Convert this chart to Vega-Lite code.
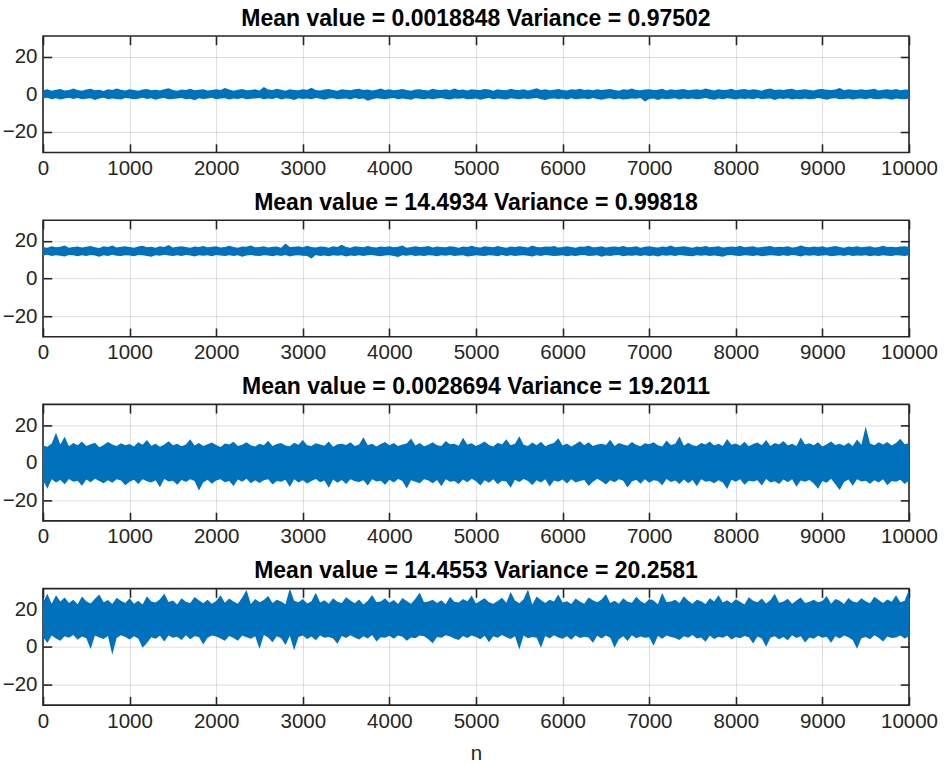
{
"$schema": "https://vega.github.io/schema/vega-lite/v6.json",
"padding": {"top": 6, "left": 1, "right": 5, "bottom": 2},
"background": "white",
"datasets": {
"p1": [
{"n":0,"l":-2.3,"h":2.1},{"n":50,"l":-1.9,"h":2.6},{"n":100,"l":-2.6,"h":1.9},{"n":150,"l":-2.1,"h":2.4},{"n":200,"l":-2.8,"h":2.8},{"n":250,"l":-2.2,"h":2.0},{"n":300,"l":-1.8,"h":2.3},{"n":350,"l":-2.5,"h":3.1},{"n":400,"l":-2.0,"h":2.2},{"n":450,"l":-2.7,"h":1.8},
{"n":500,"l":-2.4,"h":2.5},{"n":550,"l":-2.1,"h":2.9},{"n":600,"l":-3.0,"h":2.1},{"n":650,"l":-2.3,"h":2.4},{"n":700,"l":-1.9,"h":1.7},{"n":750,"l":-2.6,"h":2.6},{"n":800,"l":-2.2,"h":2.2},{"n":850,"l":-2.5,"h":3.0},{"n":900,"l":-2.8,"h":2.4},{"n":950,"l":-2.0,"h":2.0},
{"n":1000,"l":-2.2,"h":2.7},{"n":1050,"l":-2.7,"h":2.3},{"n":1100,"l":-2.4,"h":1.9},{"n":1150,"l":-1.8,"h":2.5},{"n":1200,"l":-2.5,"h":2.8},{"n":1250,"l":-2.1,"h":2.1},{"n":1300,"l":-2.9,"h":2.4},{"n":1350,"l":-2.3,"h":2.0},{"n":1400,"l":-2.0,"h":2.6},{"n":1450,"l":-2.6,"h":3.2},
{"n":1500,"l":-2.5,"h":2.2},{"n":1550,"l":-2.2,"h":1.8},{"n":1600,"l":-2.0,"h":2.5},{"n":1650,"l":-2.7,"h":2.3},{"n":1700,"l":-2.4,"h":2.9},{"n":1750,"l":-3.2,"h":2.1},{"n":1800,"l":-2.1,"h":2.4},{"n":1850,"l":-2.5,"h":2.7},{"n":1900,"l":-2.3,"h":2.0},{"n":1950,"l":-1.9,"h":2.3},
{"n":2000,"l":-2.6,"h":2.6},{"n":2050,"l":-2.3,"h":2.2},{"n":2100,"l":-2.1,"h":3.3},{"n":2150,"l":-2.8,"h":2.5},{"n":2200,"l":-2.2,"h":1.9},{"n":2250,"l":-2.5,"h":2.4},{"n":2300,"l":-2.0,"h":2.8},{"n":2350,"l":-2.7,"h":2.1},{"n":2400,"l":-2.4,"h":2.3},{"n":2450,"l":-2.2,"h":2.6},
{"n":2500,"l":-2.0,"h":2.0},{"n":2550,"l":-2.6,"h":3.8},{"n":2600,"l":-2.3,"h":2.5},{"n":2650,"l":-2.5,"h":2.2},{"n":2700,"l":-1.9,"h":2.9},{"n":2750,"l":-2.8,"h":2.4},{"n":2800,"l":-2.2,"h":1.8},{"n":2850,"l":-2.4,"h":2.6},{"n":2900,"l":-3.1,"h":2.3},{"n":2950,"l":-2.1,"h":2.1},
{"n":3000,"l":-2.5,"h":2.7},{"n":3050,"l":-2.2,"h":2.4},{"n":3100,"l":-2.7,"h":3.4},{"n":3150,"l":-2.0,"h":2.2},{"n":3200,"l":-2.4,"h":2.0},{"n":3250,"l":-2.9,"h":2.5},{"n":3300,"l":-2.3,"h":2.8},{"n":3350,"l":-2.1,"h":2.3},{"n":3400,"l":-2.6,"h":1.9},{"n":3450,"l":-2.4,"h":2.6},
{"n":3500,"l":-2.2,"h":2.4},{"n":3550,"l":-2.8,"h":2.1},{"n":3600,"l":-2.0,"h":2.7},{"n":3650,"l":-2.5,"h":2.9},{"n":3700,"l":-2.3,"h":2.2},{"n":3750,"l":-3.4,"h":2.5},{"n":3800,"l":-2.6,"h":2.0},{"n":3850,"l":-2.1,"h":2.4},{"n":3900,"l":-2.4,"h":3.0},{"n":3950,"l":-2.7,"h":2.3},
{"n":4000,"l":-2.3,"h":2.6},{"n":4050,"l":-2.0,"h":2.1},{"n":4100,"l":-2.6,"h":2.4},{"n":4150,"l":-2.2,"h":2.8},{"n":4200,"l":-2.5,"h":2.2},{"n":4250,"l":-2.9,"h":1.9},{"n":4300,"l":-2.1,"h":2.5},{"n":4350,"l":-2.4,"h":2.7},{"n":4400,"l":-2.7,"h":2.3},{"n":4450,"l":-2.3,"h":2.0},
{"n":4500,"l":-2.6,"h":2.9},{"n":4550,"l":-2.2,"h":2.4},{"n":4600,"l":-2.0,"h":2.2},{"n":4650,"l":-2.5,"h":2.6},{"n":4700,"l":-2.8,"h":2.1},{"n":4750,"l":-2.3,"h":3.1},{"n":4800,"l":-2.4,"h":2.3},{"n":4850,"l":-2.1,"h":2.5},{"n":4900,"l":-2.7,"h":2.0},{"n":4950,"l":-2.5,"h":2.7},
{"n":5000,"l":-2.2,"h":2.4},{"n":5050,"l":-2.9,"h":2.2},{"n":5100,"l":-2.4,"h":2.8},{"n":5150,"l":-2.0,"h":2.5},{"n":5200,"l":-2.6,"h":1.9},{"n":5250,"l":-2.3,"h":2.6},{"n":5300,"l":-2.5,"h":2.3},{"n":5350,"l":-2.8,"h":2.1},{"n":5400,"l":-2.1,"h":2.9},{"n":5450,"l":-2.4,"h":2.4},
{"n":5500,"l":-2.7,"h":2.2},{"n":5550,"l":-2.2,"h":2.7},{"n":5600,"l":-2.5,"h":2.0},{"n":5650,"l":-2.3,"h":2.5},{"n":5700,"l":-2.0,"h":3.2},{"n":5750,"l":-2.6,"h":2.3},{"n":5800,"l":-3.0,"h":2.6},{"n":5850,"l":-2.4,"h":2.1},{"n":5900,"l":-2.2,"h":2.4},{"n":5950,"l":-2.5,"h":2.8},
{"n":6000,"l":-2.3,"h":2.3},{"n":6050,"l":-2.8,"h":2.0},{"n":6100,"l":-2.1,"h":2.6},{"n":6150,"l":-2.6,"h":2.4},{"n":6200,"l":-2.4,"h":2.9},{"n":6250,"l":-2.2,"h":2.2},{"n":6300,"l":-2.7,"h":2.5},{"n":6350,"l":-2.0,"h":2.1},{"n":6400,"l":-2.5,"h":2.7},{"n":6450,"l":-2.9,"h":2.3},
{"n":6500,"l":-2.4,"h":2.5},{"n":6550,"l":-2.1,"h":2.8},{"n":6600,"l":-2.6,"h":2.2},{"n":6650,"l":-2.3,"h":1.9},{"n":6700,"l":-2.8,"h":2.6},{"n":6750,"l":-2.5,"h":2.4},{"n":6800,"l":-2.2,"h":3.0},{"n":6850,"l":-2.4,"h":2.3},{"n":6900,"l":-2.0,"h":2.1},{"n":6950,"l":-3.9,"h":2.5},
{"n":7000,"l":-2.5,"h":2.7},{"n":7050,"l":-2.3,"h":2.2},{"n":7100,"l":-3.1,"h":2.4},{"n":7150,"l":-2.2,"h":2.9},{"n":7200,"l":-2.6,"h":2.0},{"n":7250,"l":-2.4,"h":2.6},{"n":7300,"l":-2.1,"h":2.3},{"n":7350,"l":-2.8,"h":2.5},{"n":7400,"l":-2.3,"h":2.8},{"n":7450,"l":-2.5,"h":2.1},
{"n":7500,"l":-2.2,"h":2.4},{"n":7550,"l":-2.7,"h":2.6},{"n":7600,"l":-2.4,"h":2.2},{"n":7650,"l":-2.0,"h":3.1},{"n":7700,"l":-2.5,"h":2.5},{"n":7750,"l":-2.9,"h":2.0},{"n":7800,"l":-2.3,"h":2.7},{"n":7850,"l":-2.6,"h":2.3},{"n":7900,"l":-2.1,"h":2.4},{"n":7950,"l":-2.4,"h":2.9},
{"n":8000,"l":-2.8,"h":2.1},{"n":8050,"l":-2.2,"h":2.5},{"n":8100,"l":-2.5,"h":2.8},{"n":8150,"l":-2.3,"h":2.2},{"n":8200,"l":-2.7,"h":2.6},{"n":8250,"l":-2.0,"h":2.4},{"n":8300,"l":-2.6,"h":1.9},{"n":8350,"l":-2.4,"h":2.7},{"n":8400,"l":-2.2,"h":3.0},{"n":8450,"l":-3.0,"h":2.3},
{"n":8500,"l":-2.3,"h":2.5},{"n":8550,"l":-2.5,"h":2.2},{"n":8600,"l":-2.1,"h":2.6},{"n":8650,"l":-2.8,"h":2.9},{"n":8700,"l":-2.4,"h":2.1},{"n":8750,"l":-2.6,"h":2.4},{"n":8800,"l":-2.2,"h":2.7},{"n":8850,"l":-2.7,"h":2.3},{"n":8900,"l":-2.5,"h":2.0},{"n":8950,"l":-2.0,"h":2.6},
{"n":9000,"l":-2.4,"h":2.8},{"n":9050,"l":-2.9,"h":2.4},{"n":9100,"l":-2.3,"h":2.2},{"n":9150,"l":-2.1,"h":2.5},{"n":9200,"l":-2.6,"h":3.3},{"n":9250,"l":-2.5,"h":2.1},{"n":9300,"l":-2.2,"h":2.6},{"n":9350,"l":-2.8,"h":2.4},{"n":9400,"l":-2.4,"h":2.3},{"n":9450,"l":-2.3,"h":2.7},
{"n":9500,"l":-2.6,"h":2.2},{"n":9550,"l":-2.1,"h":2.5},{"n":9600,"l":-2.5,"h":2.9},{"n":9650,"l":-2.7,"h":2.0},{"n":9700,"l":-2.3,"h":2.4},{"n":9750,"l":-2.4,"h":2.6},{"n":9800,"l":-2.9,"h":2.3},{"n":9850,"l":-2.2,"h":2.8},{"n":9900,"l":-2.5,"h":2.1},{"n":9950,"l":-2.6,"h":2.5},
{"n":10000,"l":-2.3,"h":2.4}
],
"p2": [
{"n":0,"l":12.2,"h":16.8},{"n":50,"l":12.6,"h":16.4},{"n":100,"l":11.9,"h":17.2},{"n":150,"l":12.4,"h":16.6},{"n":200,"l":12.1,"h":16.9},{"n":250,"l":11.7,"h":17.5},{"n":300,"l":12.5,"h":16.3},{"n":350,"l":12.3,"h":16.7},{"n":400,"l":11.8,"h":17.0},{"n":450,"l":12.4,"h":16.5},
{"n":500,"l":12.0,"h":16.9},{"n":550,"l":12.5,"h":17.3},{"n":600,"l":12.2,"h":16.6},{"n":650,"l":11.6,"h":16.2},{"n":700,"l":12.3,"h":17.1},{"n":750,"l":12.0,"h":16.8},{"n":800,"l":12.6,"h":17.6},{"n":850,"l":12.1,"h":16.5},{"n":900,"l":11.9,"h":16.9},{"n":950,"l":12.4,"h":17.2},
{"n":1000,"l":12.2,"h":16.7},{"n":1050,"l":11.8,"h":16.4},{"n":1100,"l":12.5,"h":17.0},{"n":1150,"l":12.3,"h":17.4},{"n":1200,"l":12.0,"h":16.6},{"n":1250,"l":11.5,"h":16.9},{"n":1300,"l":12.4,"h":16.3},{"n":1350,"l":12.1,"h":17.1},{"n":1400,"l":12.6,"h":16.8},{"n":1450,"l":12.2,"h":17.8},
{"n":1500,"l":11.9,"h":16.5},{"n":1550,"l":12.3,"h":16.9},{"n":1600,"l":12.0,"h":17.2},{"n":1650,"l":12.5,"h":16.7},{"n":1700,"l":12.2,"h":16.4},{"n":1750,"l":11.7,"h":17.0},{"n":1800,"l":12.4,"h":16.8},{"n":1850,"l":12.1,"h":17.3},{"n":1900,"l":12.3,"h":16.6},{"n":1950,"l":11.8,"h":16.9},
{"n":2000,"l":12.5,"h":17.1},{"n":2050,"l":12.2,"h":16.5},{"n":2100,"l":11.9,"h":16.8},{"n":2150,"l":12.4,"h":17.4},{"n":2200,"l":12.0,"h":16.7},{"n":2250,"l":12.3,"h":16.3},{"n":2300,"l":11.6,"h":17.0},{"n":2350,"l":12.2,"h":16.9},{"n":2400,"l":12.5,"h":17.5},{"n":2450,"l":12.1,"h":16.6},
{"n":2500,"l":11.9,"h":16.8},{"n":2550,"l":12.4,"h":17.2},{"n":2600,"l":12.2,"h":16.5},{"n":2650,"l":11.8,"h":16.9},{"n":2700,"l":12.3,"h":17.0},{"n":2750,"l":12.0,"h":16.4},{"n":2800,"l":12.5,"h":18.6},{"n":2850,"l":11.7,"h":16.7},{"n":2900,"l":12.2,"h":16.9},{"n":2950,"l":12.4,"h":17.1},
{"n":3000,"l":12.1,"h":16.6},{"n":3050,"l":11.9,"h":17.4},{"n":3100,"l":10.6,"h":16.8},{"n":3150,"l":12.5,"h":16.5},{"n":3200,"l":12.0,"h":17.0},{"n":3250,"l":12.2,"h":16.9},{"n":3300,"l":11.8,"h":16.3},{"n":3350,"l":12.4,"h":17.2},{"n":3400,"l":12.1,"h":16.7},{"n":3450,"l":12.3,"h":17.9},
{"n":3500,"l":11.7,"h":16.8},{"n":3550,"l":12.2,"h":16.4},{"n":3600,"l":12.0,"h":17.1},{"n":3650,"l":12.4,"h":16.9},{"n":3700,"l":11.9,"h":16.6},{"n":3750,"l":12.3,"h":17.3},{"n":3800,"l":12.5,"h":16.8},{"n":3850,"l":12.1,"h":16.5},{"n":3900,"l":11.8,"h":17.0},{"n":3950,"l":12.2,"h":16.7},
{"n":4000,"l":12.4,"h":17.2},{"n":4050,"l":12.0,"h":16.6},{"n":4100,"l":11.4,"h":16.9},{"n":4150,"l":12.3,"h":17.5},{"n":4200,"l":12.1,"h":16.4},{"n":4250,"l":12.5,"h":16.8},{"n":4300,"l":11.9,"h":17.1},{"n":4350,"l":12.2,"h":16.7},{"n":4400,"l":12.0,"h":16.9},{"n":4450,"l":12.4,"h":17.3},
{"n":4500,"l":12.2,"h":16.5},{"n":4550,"l":11.8,"h":17.0},{"n":4600,"l":12.3,"h":16.8},{"n":4650,"l":12.1,"h":16.6},{"n":4700,"l":12.5,"h":17.2},{"n":4750,"l":11.9,"h":16.9},{"n":4800,"l":12.2,"h":16.4},{"n":4850,"l":12.4,"h":17.0},{"n":4900,"l":11.7,"h":16.7},{"n":4950,"l":12.0,"h":17.4},
{"n":5000,"l":12.3,"h":16.8},{"n":5050,"l":12.1,"h":16.5},{"n":5100,"l":11.9,"h":17.1},{"n":5150,"l":12.4,"h":16.9},{"n":5200,"l":12.2,"h":16.6},{"n":5250,"l":11.8,"h":17.3},{"n":5300,"l":12.5,"h":16.8},{"n":5350,"l":12.0,"h":16.4},{"n":5400,"l":12.3,"h":17.0},{"n":5450,"l":11.9,"h":16.7},
{"n":5500,"l":12.2,"h":17.2},{"n":5550,"l":12.4,"h":16.9},{"n":5600,"l":12.1,"h":16.5},{"n":5650,"l":11.7,"h":17.6},{"n":5700,"l":12.3,"h":16.8},{"n":5750,"l":12.0,"h":16.6},{"n":5800,"l":12.5,"h":17.0},{"n":5850,"l":12.2,"h":16.9},{"n":5900,"l":11.9,"h":17.3},{"n":5950,"l":12.1,"h":16.5},
{"n":6000,"l":12.4,"h":16.7},{"n":6050,"l":11.8,"h":17.1},{"n":6100,"l":12.2,"h":16.8},{"n":6150,"l":12.0,"h":16.4},{"n":6200,"l":12.3,"h":17.0},{"n":6250,"l":12.5,"h":16.9},{"n":6300,"l":11.9,"h":17.4},{"n":6350,"l":12.1,"h":16.6},{"n":6400,"l":12.4,"h":16.8},{"n":6450,"l":11.6,"h":17.2},
{"n":6500,"l":12.2,"h":16.5},{"n":6550,"l":12.0,"h":16.9},{"n":6600,"l":12.3,"h":17.0},{"n":6650,"l":12.5,"h":16.7},{"n":6700,"l":11.8,"h":17.3},{"n":6750,"l":12.2,"h":16.6},{"n":6800,"l":12.1,"h":16.8},{"n":6850,"l":12.4,"h":17.1},{"n":6900,"l":11.9,"h":16.4},{"n":6950,"l":12.3,"h":16.9},
{"n":7000,"l":12.0,"h":17.2},{"n":7050,"l":12.2,"h":16.7},{"n":7100,"l":11.7,"h":16.5},{"n":7150,"l":12.4,"h":17.0},{"n":7200,"l":12.1,"h":16.8},{"n":7250,"l":12.3,"h":17.5},{"n":7300,"l":11.9,"h":16.6},{"n":7350,"l":12.5,"h":16.9},{"n":7400,"l":12.2,"h":17.1},{"n":7450,"l":12.0,"h":16.7},
{"n":7500,"l":11.8,"h":16.4},{"n":7550,"l":12.3,"h":17.0},{"n":7600,"l":12.1,"h":16.8},{"n":7650,"l":12.4,"h":17.3},{"n":7700,"l":11.9,"h":16.6},{"n":7750,"l":12.2,"h":16.9},{"n":7800,"l":12.0,"h":17.2},{"n":7850,"l":11.6,"h":16.5},{"n":7900,"l":12.3,"h":16.8},{"n":7950,"l":12.5,"h":17.0},
{"n":8000,"l":12.1,"h":16.7},{"n":8050,"l":11.9,"h":17.4},{"n":8100,"l":12.4,"h":16.6},{"n":8150,"l":12.2,"h":16.9},{"n":8200,"l":12.0,"h":17.1},{"n":8250,"l":12.3,"h":16.5},{"n":8300,"l":11.8,"h":16.8},{"n":8350,"l":12.1,"h":17.0},{"n":8400,"l":12.4,"h":17.3},{"n":8450,"l":12.2,"h":16.6},
{"n":8500,"l":11.9,"h":16.9},{"n":8550,"l":12.3,"h":16.7},{"n":8600,"l":12.0,"h":17.2},{"n":8650,"l":12.5,"h":16.5},{"n":8700,"l":12.2,"h":16.8},{"n":8750,"l":11.7,"h":17.6},{"n":8800,"l":12.4,"h":16.9},{"n":8850,"l":12.1,"h":16.6},{"n":8900,"l":12.3,"h":17.0},{"n":8950,"l":11.9,"h":16.8},
{"n":9000,"l":12.2,"h":17.1},{"n":9050,"l":12.4,"h":16.5},{"n":9100,"l":11.8,"h":16.9},{"n":9150,"l":12.1,"h":17.3},{"n":9200,"l":12.3,"h":16.7},{"n":9250,"l":12.0,"h":16.4},{"n":9300,"l":12.5,"h":17.0},{"n":9350,"l":11.9,"h":16.8},{"n":9400,"l":12.2,"h":17.2},{"n":9450,"l":12.1,"h":16.6},
{"n":9500,"l":12.4,"h":16.9},{"n":9550,"l":11.8,"h":17.1},{"n":9600,"l":12.2,"h":16.5},{"n":9650,"l":12.0,"h":16.8},{"n":9700,"l":12.3,"h":17.4},{"n":9750,"l":12.1,"h":16.7},{"n":9800,"l":11.9,"h":16.9},{"n":9850,"l":12.4,"h":16.6},{"n":9900,"l":12.2,"h":17.0},{"n":9950,"l":12.0,"h":17.2},
{"n":10000,"l":12.3,"h":16.8}
],
"p3": [
{"n":0,"l":-9.4,"h":9.1},{"n":50,"l":-13.9,"h":8.4},{"n":100,"l":-8.8,"h":10.2},{"n":150,"l":-10.6,"h":15.9},{"n":200,"l":-9.2,"h":9.6},{"n":250,"l":-11.5,"h":13.8},{"n":300,"l":-8.7,"h":8.7},{"n":350,"l":-10.1,"h":10.5},{"n":400,"l":-9.6,"h":9.3},{"n":450,"l":-12.3,"h":11.2},
{"n":500,"l":-9.0,"h":8.9},{"n":550,"l":-10.4,"h":9.8},{"n":600,"l":-8.6,"h":10.6},{"n":650,"l":-9.8,"h":8.2},{"n":700,"l":-11.0,"h":9.4},{"n":750,"l":-9.3,"h":11.0},{"n":800,"l":-10.7,"h":9.7},{"n":850,"l":-8.9,"h":8.8},{"n":900,"l":-9.5,"h":10.3},{"n":950,"l":-12.0,"h":9.2},
{"n":1000,"l":-10.2,"h":9.9},{"n":1050,"l":-9.1,"h":8.6},{"n":1100,"l":-11.3,"h":10.8},{"n":1150,"l":-8.8,"h":9.5},{"n":1200,"l":-9.9,"h":12.1},{"n":1250,"l":-10.5,"h":9.0},{"n":1300,"l":-9.4,"h":10.1},{"n":1350,"l":-13.1,"h":8.5},{"n":1400,"l":-8.7,"h":9.7},{"n":1450,"l":-10.0,"h":11.4},
{"n":1500,"l":-9.6,"h":9.3},{"n":1550,"l":-11.7,"h":10.0},{"n":1600,"l":-9.2,"h":8.7},{"n":1650,"l":-10.3,"h":9.6},{"n":1700,"l":-8.9,"h":12.5},{"n":1750,"l":-9.8,"h":9.1},{"n":1800,"l":-14.8,"h":10.4},{"n":1850,"l":-10.6,"h":8.9},{"n":1900,"l":-9.1,"h":9.8},{"n":1950,"l":-11.2,"h":10.7},
{"n":2000,"l":-9.5,"h":9.4},{"n":2050,"l":-8.8,"h":8.3},{"n":2100,"l":-10.4,"h":10.2},{"n":2150,"l":-9.7,"h":9.7},{"n":2200,"l":-12.4,"h":11.1},{"n":2250,"l":-9.0,"h":8.8},{"n":2300,"l":-10.1,"h":9.5},{"n":2350,"l":-8.6,"h":10.9},{"n":2400,"l":-11.0,"h":9.2},{"n":2450,"l":-9.3,"h":8.6},
{"n":2500,"l":-10.8,"h":10.0},{"n":2550,"l":-9.4,"h":9.3},{"n":2600,"l":-8.9,"h":11.6},{"n":2650,"l":-11.6,"h":8.9},{"n":2700,"l":-9.7,"h":9.9},{"n":2750,"l":-10.2,"h":10.4},{"n":2800,"l":-9.1,"h":9.1},{"n":2850,"l":-12.9,"h":8.7},{"n":2900,"l":-8.8,"h":10.6},{"n":2950,"l":-10.5,"h":9.5},
{"n":3000,"l":-9.3,"h":12.0},{"n":3050,"l":-11.1,"h":9.2},{"n":3100,"l":-9.8,"h":8.8},{"n":3150,"l":-8.7,"h":10.3},{"n":3200,"l":-10.4,"h":9.7},{"n":3250,"l":-9.5,"h":9.0},{"n":3300,"l":-13.3,"h":11.3},{"n":3350,"l":-9.0,"h":8.5},{"n":3400,"l":-10.7,"h":9.8},{"n":3450,"l":-9.2,"h":10.1},
{"n":3500,"l":-11.4,"h":9.4},{"n":3550,"l":-8.9,"h":10.8},{"n":3600,"l":-9.9,"h":8.9},{"n":3650,"l":-10.3,"h":9.6},{"n":3700,"l":-9.4,"h":13.5},{"n":3750,"l":-12.1,"h":9.3},{"n":3800,"l":-8.8,"h":10.0},{"n":3850,"l":-10.0,"h":8.6},{"n":3900,"l":-9.6,"h":9.9},{"n":3950,"l":-11.8,"h":11.0},
{"n":4000,"l":-9.1,"h":9.2},{"n":4050,"l":-10.6,"h":10.5},{"n":4100,"l":-8.7,"h":8.8},{"n":4150,"l":-9.8,"h":9.7},{"n":4200,"l":-13.7,"h":10.2},{"n":4250,"l":-9.3,"h":12.8},{"n":4300,"l":-10.2,"h":9.1},{"n":4350,"l":-11.0,"h":10.4},{"n":4400,"l":-8.9,"h":8.7},{"n":4450,"l":-9.5,"h":9.5},
{"n":4500,"l":-10.9,"h":10.9},{"n":4550,"l":-9.2,"h":9.3},{"n":4600,"l":-12.5,"h":8.9},{"n":4650,"l":-8.8,"h":11.5},{"n":4700,"l":-10.1,"h":9.8},{"n":4750,"l":-9.7,"h":10.1},{"n":4800,"l":-11.3,"h":9.0},{"n":4850,"l":-9.0,"h":13.2},{"n":4900,"l":-10.4,"h":9.6},{"n":4950,"l":-8.6,"h":10.3},
{"n":5000,"l":-9.9,"h":8.8},{"n":5050,"l":-12.2,"h":9.9},{"n":5100,"l":-9.4,"h":11.2},{"n":5150,"l":-10.7,"h":9.4},{"n":5200,"l":-8.9,"h":8.6},{"n":5250,"l":-11.5,"h":10.6},{"n":5300,"l":-9.6,"h":9.7},{"n":5350,"l":-10.0,"h":12.4},{"n":5400,"l":-13.4,"h":9.2},{"n":5450,"l":-9.1,"h":10.0},
{"n":5500,"l":-10.3,"h":14.1},{"n":5550,"l":-8.7,"h":9.5},{"n":5600,"l":-9.8,"h":8.9},{"n":5650,"l":-11.9,"h":10.7},{"n":5700,"l":-9.3,"h":9.3},{"n":5750,"l":-10.5,"h":11.1},{"n":5800,"l":-8.9,"h":8.7},{"n":5850,"l":-12.7,"h":9.8},{"n":5900,"l":-9.5,"h":10.4},{"n":5950,"l":-10.1,"h":13.0},
{"n":6000,"l":-9.0,"h":9.1},{"n":6050,"l":-11.1,"h":10.2},{"n":6100,"l":-8.8,"h":8.6},{"n":6150,"l":-10.6,"h":9.9},{"n":6200,"l":-9.7,"h":11.4},{"n":6250,"l":-9.2,"h":9.3},{"n":6300,"l":-12.4,"h":10.8},{"n":6350,"l":-10.2,"h":8.9},{"n":6400,"l":-8.6,"h":9.6},{"n":6450,"l":-9.9,"h":10.1},
{"n":6500,"l":-11.6,"h":9.4},{"n":6550,"l":-9.4,"h":12.2},{"n":6600,"l":-10.4,"h":8.8},{"n":6650,"l":-8.9,"h":10.5},{"n":6700,"l":-9.6,"h":9.7},{"n":6750,"l":-13.2,"h":9.0},{"n":6800,"l":-10.0,"h":11.0},{"n":6850,"l":-9.1,"h":9.5},{"n":6900,"l":-11.2,"h":8.7},{"n":6950,"l":-8.8,"h":10.3},
{"n":7000,"l":-10.7,"h":9.8},{"n":7050,"l":-9.3,"h":10.9},{"n":7100,"l":-9.8,"h":9.2},{"n":7150,"l":-12.0,"h":8.6},{"n":7200,"l":-8.7,"h":11.8},{"n":7250,"l":-10.3,"h":9.4},{"n":7300,"l":-9.5,"h":10.1},{"n":7350,"l":-11.4,"h":13.9},{"n":7400,"l":-9.0,"h":9.0},{"n":7450,"l":-10.9,"h":10.6},
{"n":7500,"l":-9.2,"h":9.3},{"n":7550,"l":-12.6,"h":8.9},{"n":7600,"l":-8.9,"h":10.4},{"n":7650,"l":-10.1,"h":9.7},{"n":7700,"l":-9.7,"h":11.3},{"n":7750,"l":-11.0,"h":9.1},{"n":7800,"l":-9.4,"h":10.0},{"n":7850,"l":-10.5,"h":8.8},{"n":7900,"l":-14.0,"h":12.6},{"n":7950,"l":-9.1,"h":9.5},
{"n":8000,"l":-10.2,"h":10.2},{"n":8050,"l":-8.8,"h":9.0},{"n":8100,"l":-11.7,"h":11.1},{"n":8150,"l":-9.6,"h":8.7},{"n":8200,"l":-10.0,"h":9.9},{"n":8250,"l":-9.3,"h":10.7},{"n":8300,"l":-12.2,"h":9.3},{"n":8350,"l":-8.7,"h":12.0},{"n":8400,"l":-10.6,"h":8.9},{"n":8450,"l":-9.9,"h":10.4},
{"n":8500,"l":-11.3,"h":9.6},{"n":8550,"l":-9.0,"h":11.5},{"n":8600,"l":-10.4,"h":9.1},{"n":8650,"l":-8.9,"h":10.0},{"n":8700,"l":-12.8,"h":8.8},{"n":8750,"l":-9.5,"h":13.4},{"n":8800,"l":-10.1,"h":9.7},{"n":8850,"l":-9.2,"h":10.3},{"n":8900,"l":-11.1,"h":9.2},{"n":8950,"l":-13.9,"h":10.9},
{"n":9000,"l":-9.8,"h":8.6},{"n":9050,"l":-10.7,"h":9.8},{"n":9100,"l":-8.6,"h":11.2},{"n":9150,"l":-11.5,"h":9.4},{"n":9200,"l":-14.6,"h":10.1},{"n":9250,"l":-10.3,"h":9.0},{"n":9300,"l":-9.0,"h":10.6},{"n":9350,"l":-12.3,"h":8.9},{"n":9400,"l":-8.8,"h":12.3},{"n":9450,"l":-10.0,"h":9.5},
{"n":9500,"l":-9.6,"h":19.3},{"n":9550,"l":-11.2,"h":10.2},{"n":9600,"l":-9.3,"h":9.3},{"n":9650,"l":-10.6,"h":10.8},{"n":9700,"l":-8.9,"h":9.7},{"n":9750,"l":-12.0,"h":11.0},{"n":9800,"l":-9.7,"h":9.1},{"n":9850,"l":-10.2,"h":10.4},{"n":9900,"l":-9.1,"h":12.7},{"n":9950,"l":-11.4,"h":9.8},
{"n":10000,"l":-9.5,"h":10.5}
],
"p4": [
{"n":0,"l":5.2,"h":23.8},{"n":50,"l":2.1,"h":28.2},{"n":100,"l":6.0,"h":22.9},{"n":150,"l":4.4,"h":27.5},{"n":200,"l":3.3,"h":24.1},{"n":250,"l":5.7,"h":26.3},{"n":300,"l":4.9,"h":23.4},{"n":350,"l":6.3,"h":25.0},{"n":400,"l":3.8,"h":22.7},{"n":450,"l":5.5,"h":26.8},
{"n":500,"l":4.6,"h":24.3},{"n":550,"l":-1.2,"h":23.1},{"n":600,"l":6.1,"h":25.6},{"n":650,"l":5.0,"h":27.9},{"n":700,"l":4.2,"h":23.7},{"n":750,"l":5.8,"h":24.9},{"n":800,"l":-4.2,"h":22.8},{"n":850,"l":4.7,"h":26.1},{"n":900,"l":6.2,"h":24.5},{"n":950,"l":5.3,"h":23.3},
{"n":1000,"l":3.9,"h":25.8},{"n":1050,"l":5.6,"h":23.0},{"n":1100,"l":4.5,"h":24.6},{"n":1150,"l":-0.5,"h":22.5},{"n":1200,"l":2.0,"h":26.9},{"n":1250,"l":5.1,"h":24.2},{"n":1300,"l":4.3,"h":23.6},{"n":1350,"l":5.9,"h":25.3},{"n":1400,"l":2.9,"h":28.4},{"n":1450,"l":6.0,"h":23.9},
{"n":1500,"l":4.8,"h":24.7},{"n":1550,"l":5.4,"h":22.6},{"n":1600,"l":3.6,"h":25.9},{"n":1650,"l":6.2,"h":24.0},{"n":1700,"l":4.0,"h":23.4},{"n":1750,"l":5.7,"h":26.5},{"n":1800,"l":5.2,"h":24.8},{"n":1850,"l":1.2,"h":23.2},{"n":1900,"l":4.9,"h":25.1},{"n":1950,"l":6.1,"h":22.9},
{"n":2000,"l":5.5,"h":24.4},{"n":2050,"l":4.4,"h":27.5},{"n":2100,"l":3.2,"h":23.5},{"n":2150,"l":5.8,"h":25.7},{"n":2200,"l":4.7,"h":24.1},{"n":2250,"l":3.2,"h":23.0},{"n":2300,"l":6.0,"h":26.2},{"n":2350,"l":5.1,"h":30.2},{"n":2400,"l":4.3,"h":22.8},{"n":2450,"l":5.6,"h":25.4},
{"n":2500,"l":-1.2,"h":23.7},{"n":2550,"l":6.3,"h":24.9},{"n":2600,"l":5.0,"h":27.1},{"n":2650,"l":2.4,"h":23.3},{"n":2700,"l":5.7,"h":25.0},{"n":2750,"l":4.6,"h":24.2},{"n":2800,"l":1.0,"h":22.7},{"n":2850,"l":5.9,"h":31.0},{"n":2900,"l":-1.8,"h":24.5},{"n":2950,"l":5.3,"h":23.8},
{"n":3000,"l":6.1,"h":25.5},{"n":3050,"l":4.2,"h":23.1},{"n":3100,"l":5.5,"h":24.3},{"n":3150,"l":3.5,"h":28.8},{"n":3200,"l":6.0,"h":23.6},{"n":3250,"l":4.9,"h":24.8},{"n":3300,"l":5.2,"h":22.9},{"n":3350,"l":4.4,"h":25.9},{"n":3400,"l":1.7,"h":24.0},{"n":3450,"l":5.8,"h":23.4},
{"n":3500,"l":4.7,"h":26.4},{"n":3550,"l":6.2,"h":24.7},{"n":3600,"l":5.0,"h":23.2},{"n":3650,"l":3.9,"h":25.2},{"n":3700,"l":5.6,"h":22.6},{"n":3750,"l":4.5,"h":24.5},{"n":3800,"l":6.3,"h":27.6},{"n":3850,"l":2.8,"h":23.9},{"n":3900,"l":5.1,"h":24.1},{"n":3950,"l":4.8,"h":25.8},
{"n":4000,"l":5.9,"h":23.5},{"n":4050,"l":4.3,"h":24.9},{"n":4100,"l":6.1,"h":22.8},{"n":4150,"l":5.4,"h":26.0},{"n":4200,"l":3.3,"h":24.4},{"n":4250,"l":5.0,"h":23.0},{"n":4300,"l":4.6,"h":25.6},{"n":4350,"l":6.0,"h":28.9},{"n":4400,"l":5.7,"h":23.7},{"n":4450,"l":4.1,"h":24.2},
{"n":4500,"l":1.9,"h":25.1},{"n":4550,"l":5.3,"h":23.3},{"n":4600,"l":4.9,"h":24.8},{"n":4650,"l":6.2,"h":22.7},{"n":4700,"l":5.5,"h":26.7},{"n":4750,"l":4.4,"h":24.0},{"n":4800,"l":3.7,"h":23.6},{"n":4850,"l":5.8,"h":25.4},{"n":4900,"l":4.7,"h":24.3},{"n":4950,"l":6.1,"h":27.3},
{"n":5000,"l":5.2,"h":23.1},{"n":5050,"l":4.0,"h":24.6},{"n":5100,"l":5.9,"h":25.9},{"n":5150,"l":2.5,"h":23.8},{"n":5200,"l":5.6,"h":22.9},{"n":5250,"l":4.8,"h":24.4},{"n":5300,"l":6.3,"h":26.1},{"n":5350,"l":5.1,"h":23.5},{"n":5400,"l":4.2,"h":29.2},{"n":5450,"l":5.7,"h":24.7},
{"n":5500,"l":-1.4,"h":23.2},{"n":5550,"l":6.0,"h":25.3},{"n":5600,"l":4.6,"h":30.5},{"n":5650,"l":5.3,"h":22.6},{"n":5700,"l":4.9,"h":26.8},{"n":5750,"l":-0.5,"h":24.9},{"n":5800,"l":5.8,"h":23.4},{"n":5850,"l":4.5,"h":25.0},{"n":5900,"l":6.2,"h":24.2},{"n":5950,"l":5.0,"h":27.8},
{"n":6000,"l":4.3,"h":23.6},{"n":6050,"l":5.6,"h":24.3},{"n":6100,"l":3.8,"h":22.8},{"n":6150,"l":6.1,"h":25.7},{"n":6200,"l":4.7,"h":24.1},{"n":6250,"l":5.4,"h":23.0},{"n":6300,"l":5.0,"h":26.3},{"n":6350,"l":2.2,"h":24.8},{"n":6400,"l":5.9,"h":23.7},{"n":6450,"l":4.4,"h":25.2},
{"n":6500,"l":6.0,"h":28.0},{"n":6550,"l":4.9,"h":23.3},{"n":6600,"l":-0.5,"h":24.5},{"n":6650,"l":4.1,"h":22.9},{"n":6700,"l":5.7,"h":25.8},{"n":6750,"l":3.1,"h":24.0},{"n":6800,"l":6.2,"h":23.5},{"n":6850,"l":4.6,"h":26.6},{"n":6900,"l":5.5,"h":24.4},{"n":6950,"l":4.8,"h":23.1},
{"n":7000,"l":5.1,"h":25.5},{"n":7050,"l":0.6,"h":24.7},{"n":7100,"l":5.8,"h":22.7},{"n":7150,"l":4.3,"h":28.6},{"n":7200,"l":6.1,"h":23.9},{"n":7250,"l":5.2,"h":24.2},{"n":7300,"l":4.7,"h":25.1},{"n":7350,"l":3.6,"h":23.4},{"n":7400,"l":5.6,"h":26.9},{"n":7450,"l":4.9,"h":24.6},
{"n":7500,"l":6.3,"h":23.0},{"n":7550,"l":4.5,"h":25.0},{"n":7600,"l":5.0,"h":24.3},{"n":7650,"l":2.7,"h":22.8},{"n":7700,"l":5.9,"h":25.9},{"n":7750,"l":4.2,"h":24.1},{"n":7800,"l":5.4,"h":27.4},{"n":7850,"l":4.8,"h":23.6},{"n":7900,"l":6.0,"h":24.8},{"n":7950,"l":3.9,"h":23.2},
{"n":8000,"l":5.3,"h":25.3},{"n":8050,"l":4.6,"h":24.0},{"n":8100,"l":5.8,"h":22.6},{"n":8150,"l":5.1,"h":26.4},{"n":8200,"l":1.8,"h":24.5},{"n":8250,"l":5.5,"h":23.8},{"n":8300,"l":4.4,"h":25.7},{"n":8350,"l":0.0,"h":23.1},{"n":8400,"l":4.9,"h":24.9},{"n":8450,"l":5.7,"h":28.3},
{"n":8500,"l":4.0,"h":23.5},{"n":8550,"l":5.2,"h":24.2},{"n":8600,"l":3.5,"h":25.6},{"n":8650,"l":6.2,"h":22.9},{"n":8700,"l":4.7,"h":24.7},{"n":8750,"l":5.6,"h":26.2},{"n":8800,"l":2.3,"h":23.3},{"n":8850,"l":5.0,"h":24.0},{"n":8900,"l":4.3,"h":25.1},{"n":8950,"l":5.9,"h":23.7},
{"n":9000,"l":4.8,"h":24.4},{"n":9050,"l":5.4,"h":27.0},{"n":9100,"l":2.2,"h":23.0},{"n":9150,"l":5.7,"h":25.4},{"n":9200,"l":4.5,"h":24.6},{"n":9250,"l":6.0,"h":22.8},{"n":9300,"l":5.1,"h":26.0},{"n":9350,"l":3.7,"h":24.1},{"n":9400,"l":-1.0,"h":23.6},{"n":9450,"l":4.6,"h":25.8},
{"n":9500,"l":5.3,"h":24.3},{"n":9550,"l":4.1,"h":23.2},{"n":9600,"l":6.2,"h":26.7},{"n":9650,"l":4.9,"h":24.9},{"n":9700,"l":2.9,"h":23.4},{"n":9750,"l":5.5,"h":25.2},{"n":9800,"l":4.7,"h":24.0},{"n":9850,"l":5.0,"h":27.5},{"n":9900,"l":6.1,"h":23.8},{"n":9950,"l":4.4,"h":24.5},
{"n":10000,"l":5.6,"h":30.5}
]
},
"vconcat": [
{
"title": "Mean value = 0.0018848 Variance = 0.97502",
"data": {"name": "p1"},
"width": 866, "height": 116.5,
"layer": [
{"mark": {"type": "area", "color": "#0072BD", "clip": true},
 "encoding": {
  "x": {"field": "n", "type": "quantitative", "scale": {"domain": [0, 10000], "nice": false, "zero": false},
        "axis": {"orient": "bottom", "values": [0,1000,2000,3000,4000,5000,6000,7000,8000,9000,10000], "format": "d", "title": null, "ticks": false}},
  "y": {"field": "l", "type": "quantitative", "scale": {"domain": [-31, 31], "nice": false},
        "axis": {"orient": "left", "values": [-20, 0, 20], "title": null, "ticks": false}},
  "y2": {"field": "h"}}},
{"mark": {"type": "area", "opacity": 0},
 "encoding": {
  "x": {"field": "n", "type": "quantitative", "axis": {"orient": "top", "values": [0,1000,2000,3000,4000,5000,6000,7000,8000,9000,10000], "labels": false, "grid": false, "title": null, "offset": -8.7}},
  "y": {"field": "l", "type": "quantitative", "axis": {"orient": "right", "values": [-20, 0, 20], "labels": false, "grid": false, "title": null, "offset": -8.7}},
  "y2": {"field": "h"}}},
{"mark": {"type": "area", "opacity": 0},
 "encoding": {
  "x": {"field": "n", "type": "quantitative", "axis": {"orient": "bottom", "values": [0,1000,2000,3000,4000,5000,6000,7000,8000,9000,10000], "labels": false, "grid": false, "title": null, "offset": -8.7}},
  "y": {"field": "l", "type": "quantitative", "axis": {"orient": "left", "values": [-20, 0, 20], "labels": false, "grid": false, "title": null, "offset": -8.7}},
  "y2": {"field": "h"}}}
],
"resolve": {"axis": {"x": "independent", "y": "independent"}}
},
{
"title": "Mean value = 14.4934 Variance = 0.99818",
"data": {"name": "p2"},
"width": 866, "height": 116.5,
"layer": [
{"mark": {"type": "area", "color": "#0072BD", "clip": true},
 "encoding": {
  "x": {"field": "n", "type": "quantitative", "scale": {"domain": [0, 10000], "nice": false, "zero": false},
        "axis": {"orient": "bottom", "values": [0,1000,2000,3000,4000,5000,6000,7000,8000,9000,10000], "format": "d", "title": null, "ticks": false}},
  "y": {"field": "l", "type": "quantitative", "scale": {"domain": [-31, 31], "nice": false},
        "axis": {"orient": "left", "values": [-20, 0, 20], "title": null, "ticks": false}},
  "y2": {"field": "h"}}},
{"mark": {"type": "area", "opacity": 0},
 "encoding": {
  "x": {"field": "n", "type": "quantitative", "axis": {"orient": "top", "values": [0,1000,2000,3000,4000,5000,6000,7000,8000,9000,10000], "labels": false, "grid": false, "title": null, "offset": -8.7}},
  "y": {"field": "l", "type": "quantitative", "axis": {"orient": "right", "values": [-20, 0, 20], "labels": false, "grid": false, "title": null, "offset": -8.7}},
  "y2": {"field": "h"}}},
{"mark": {"type": "area", "opacity": 0},
 "encoding": {
  "x": {"field": "n", "type": "quantitative", "axis": {"orient": "bottom", "values": [0,1000,2000,3000,4000,5000,6000,7000,8000,9000,10000], "labels": false, "grid": false, "title": null, "offset": -8.7}},
  "y": {"field": "l", "type": "quantitative", "axis": {"orient": "left", "values": [-20, 0, 20], "labels": false, "grid": false, "title": null, "offset": -8.7}},
  "y2": {"field": "h"}}}
],
"resolve": {"axis": {"x": "independent", "y": "independent"}}
},
{
"title": "Mean value = 0.0028694 Variance = 19.2011",
"data": {"name": "p3"},
"width": 866, "height": 116.5,
"layer": [
{"mark": {"type": "area", "color": "#0072BD", "clip": true},
 "encoding": {
  "x": {"field": "n", "type": "quantitative", "scale": {"domain": [0, 10000], "nice": false, "zero": false},
        "axis": {"orient": "bottom", "values": [0,1000,2000,3000,4000,5000,6000,7000,8000,9000,10000], "format": "d", "title": null, "ticks": false}},
  "y": {"field": "l", "type": "quantitative", "scale": {"domain": [-31, 31], "nice": false},
        "axis": {"orient": "left", "values": [-20, 0, 20], "title": null, "ticks": false}},
  "y2": {"field": "h"}}},
{"mark": {"type": "area", "opacity": 0},
 "encoding": {
  "x": {"field": "n", "type": "quantitative", "axis": {"orient": "top", "values": [0,1000,2000,3000,4000,5000,6000,7000,8000,9000,10000], "labels": false, "grid": false, "title": null, "offset": -8.7}},
  "y": {"field": "l", "type": "quantitative", "axis": {"orient": "right", "values": [-20, 0, 20], "labels": false, "grid": false, "title": null, "offset": -8.7}},
  "y2": {"field": "h"}}},
{"mark": {"type": "area", "opacity": 0},
 "encoding": {
  "x": {"field": "n", "type": "quantitative", "axis": {"orient": "bottom", "values": [0,1000,2000,3000,4000,5000,6000,7000,8000,9000,10000], "labels": false, "grid": false, "title": null, "offset": -8.7}},
  "y": {"field": "l", "type": "quantitative", "axis": {"orient": "left", "values": [-20, 0, 20], "labels": false, "grid": false, "title": null, "offset": -8.7}},
  "y2": {"field": "h"}}}
],
"resolve": {"axis": {"x": "independent", "y": "independent"}}
},
{
"title": "Mean value = 14.4553 Variance = 20.2581",
"data": {"name": "p4"},
"width": 866, "height": 116.5,
"layer": [
{"mark": {"type": "area", "color": "#0072BD", "clip": true},
 "encoding": {
  "x": {"field": "n", "type": "quantitative", "scale": {"domain": [0, 10000], "nice": false, "zero": false},
        "axis": {"orient": "bottom", "values": [0,1000,2000,3000,4000,5000,6000,7000,8000,9000,10000], "format": "d", "title": "n", "ticks": false}},
  "y": {"field": "l", "type": "quantitative", "scale": {"domain": [-31, 31], "nice": false},
        "axis": {"orient": "left", "values": [-20, 0, 20], "title": null, "ticks": false}},
  "y2": {"field": "h"}}},
{"mark": {"type": "area", "opacity": 0},
 "encoding": {
  "x": {"field": "n", "type": "quantitative", "axis": {"orient": "top", "values": [0,1000,2000,3000,4000,5000,6000,7000,8000,9000,10000], "labels": false, "grid": false, "title": null, "offset": -8.7}},
  "y": {"field": "l", "type": "quantitative", "axis": {"orient": "right", "values": [-20, 0, 20], "labels": false, "grid": false, "title": null, "offset": -8.7}},
  "y2": {"field": "h"}}},
{"mark": {"type": "area", "opacity": 0},
 "encoding": {
  "x": {"field": "n", "type": "quantitative", "axis": {"orient": "bottom", "values": [0,1000,2000,3000,4000,5000,6000,7000,8000,9000,10000], "labels": false, "grid": false, "title": null, "offset": -8.7}},
  "y": {"field": "l", "type": "quantitative", "axis": {"orient": "left", "values": [-20, 0, 20], "labels": false, "grid": false, "title": null, "offset": -8.7}},
  "y2": {"field": "h"}}}
],
"resolve": {"axis": {"x": "independent", "y": "independent"}}
}
],
"spacing": 67.2,
"bounds": "flush",
"config": {
 "font": "Liberation Sans",
 "view": {"stroke": "#262626", "strokeWidth": 1.6},
 "axis": {"labelFont": "Liberation Sans", "labelFontSize": 20.5, "labelColor": "#262626", "labelFlush": false, "labelOverlap": false, "tickColor": "#262626", "tickWidth": 1.6, "tickSize": 8.7, "domain": false, "gridColor": "#262626", "gridOpacity": 0.15, "gridWidth": 1, "labelPadding": 6, "titleFont": "Liberation Sans", "titleFontSize": 20.5, "titleFontWeight": "normal", "titleColor": "#262626", "titlePadding": 12},
 "title": {"font": "Liberation Sans", "fontSize": 23, "fontWeight": "bold", "color": "#000000", "offset": 4.5}
}
}
